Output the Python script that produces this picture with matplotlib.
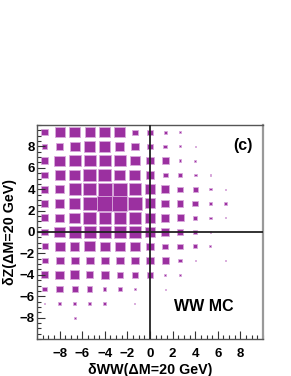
import numpy as np
import matplotlib
matplotlib.use('Agg')
import matplotlib.pyplot as plt
from matplotlib.patches import Rectangle
from matplotlib.ticker import MultipleLocator

plt.rcParams['font.family'] = ['Liberation Sans', 'DejaVu Sans']

# 15x15 histogram, -10..10 on both axes
bin_edges = np.linspace(-10, 10, 16)
max_content = 15.0

# box contents, one list per row, top row (dZ = +9.33) first
row_p9 = [7, 10, 11, 10, 11, 11, 5.5, 5, 3, 1.7, 0, 0, 0, 0, 0]
row_p8 = [5, 7, 10, 11, 11, 9, 7.5, 5.5, 3.3, 2, 1, 0, 0, 0, 0]
row_p7 = [7.5, 10.5, 12, 12, 12, 11.5, 9.5, 8, 7, 2.7, 2, 0, 0, 0, 0]
row_p5 = [7, 10, 11, 12.5, 13, 11, 11, 8.5, 5, 4, 3, 1.5, 0, 0, 0]
row_p4 = [7, 9, 12, 12.5, 13.5, 13.5, 12, 10, 8, 5.5, 5, 2.5, 1, 0, 0]
row_p3 = [7.5, 9, 11.5, 14, 15, 15, 14.5, 10.5, 8, 6.5, 6, 3, 3, 0, 0]
row_p1 = [7, 8.5, 10.5, 12.5, 12.5, 12.5, 12.5, 10.5, 8.5, 7, 4, 2.5, 1, 0, 0]
row_0 = [7, 10.5, 12, 12, 12, 12, 12.5, 10, 8.5, 5.5, 4.5, 1.5, 0, 0, 0]
row_m1 = [6, 10, 9.5, 10.5, 9.5, 9.5, 10, 7, 5.5, 5.5, 4, 1.7, 0, 0, 0]
row_m3 = [6, 8, 8, 8, 8, 8, 8, 7, 7, 4, 1.3, 0, 1, 0, 0]
row_m4 = [7, 8.5, 9.5, 7.5, 8, 6.5, 6, 6, 2.7, 2.7, 0, 0, 0, 0, 0]
row_m5 = [4.5, 6.5, 6, 5.5, 3.3, 3.3, 1.3, 0, 1, 0, 0, 0, 0, 0, 0]
row_m7 = [1.7, 2.7, 3.3, 3.3, 3.3, 0, 1, 0, 0, 0, 0, 0, 0, 0, 0]
row_m8 = [0, 0, 2, 0, 0, 0, 0, 0, 0, 0, 0, 0, 0, 0, 0]
row_m9 = [0] * 15

rows = [row_p9, row_p8, row_p7, row_p5, row_p4, row_p3, row_p1, row_0,
        row_m1, row_m3, row_m4, row_m5, row_m7, row_m8, row_m9]
content = np.array(rows[::-1])  # index [j, i], j = 0 is bottom row

x_ticks = [-8, -6, -4, -2, 0, 2, 4, 6, 8]
y_ticks = [-8, -6, -4, -2, 0, 2, 4, 6, 8]

fig = plt.figure(figsize=(2.91, 3.76), dpi=100)
ax = fig.add_axes([37 / 291, 37 / 376, 226 / 291, 214 / 376])

centers = 0.5 * (bin_edges[:-1] + bin_edges[1:])
bw = bin_edges[1] - bin_edges[0]
for j, yc in enumerate(centers):
    for i, xc in enumerate(centers):
        c = content[j, i]
        if c <= 0:
            continue
        s = c / max_content * bw
        ax.add_patch(Rectangle((xc - s / 2, yc - s / 2), s, s,
                               facecolor='#9b30a0', edgecolor='#d9a8dc',
                               linewidth=0.6))

ax.axhline(0, color='#222222', lw=1.3, zorder=3)
ax.axvline(0, color='#222222', lw=1.3, zorder=3)

ax.set_xlim(-10, 10)
ax.set_ylim(-10, 10)
ax.set_xticks(x_ticks)
ax.set_yticks(y_ticks)
ax.xaxis.set_minor_locator(MultipleLocator(0.5))
ax.yaxis.set_minor_locator(MultipleLocator(0.5))
ax.tick_params(which='both', direction='in', top=False, right=False,
               color='#333333', width=0.8)
ax.tick_params(which='major', length=6)
ax.tick_params(which='minor', length=3)
ax.tick_params(axis='x', pad=6.5, labelsize=9.5)
ax.tick_params(axis='y', pad=1.5, labelsize=9.5)
for lab in ax.get_xticklabels() + ax.get_yticklabels():
    lab.set_fontweight('bold')

for side in ['left', 'bottom', 'top']:
    ax.spines[side].set_color('#555555')
    ax.spines[side].set_linewidth(1.0)
ax.spines['right'].set_color('#999999')
ax.spines['right'].set_linewidth(1.6)

ax.set_xlabel('δWW(ΔM=20 GeV)', fontsize=10.3, fontweight='bold', labelpad=2)
ax.set_ylabel('δZ(ΔM=20 GeV)', fontsize=10.3, fontweight='bold', labelpad=2)

ax.text(0.91, 0.906, '(c)', transform=ax.transAxes, ha='center', va='center',
        fontsize=11.5, fontweight='bold')
ax.text(0.739, 0.152, 'WW MC', transform=ax.transAxes, ha='center', va='center',
        fontsize=11.5, fontweight='bold')

fig.savefig('out.png', dpi=100)
